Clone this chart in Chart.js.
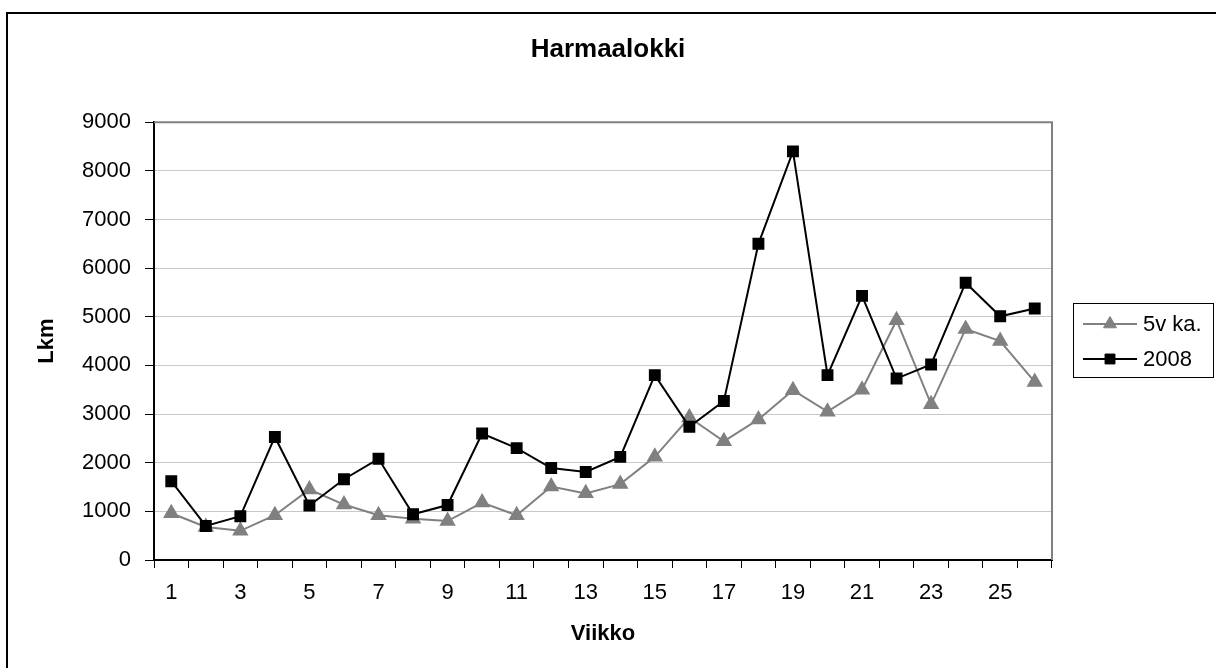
<!DOCTYPE html>
<html>
<head>
<meta charset="utf-8">
<script src="https://cdn.jsdelivr.net/npm/chart.js@4/dist/chart.umd.min.js"></script>
<style>
    html, body { margin: 0; padding: 0; background: #fff; }
    #wrap { width: 1216px; height: 668px; }
</style>
</head>
<body>
<div id="wrap"><canvas id="chart" width="1216" height="668"></canvas></div>
<script>
    // weeks 1..26
    var weeks = ['1', '2', '3', '4', '5', '6', '7', '8', '9', '10', '11', '12', '13',
                 '14', '15', '16', '17', '18', '19', '20', '21', '22', '23', '24', '25', '26'];

    // 5 year average
    var avg5 = [960, 680, 600, 920, 1450, 1140, 920, 850, 800, 1180, 920, 1510, 1370,
                1560, 2120, 2930, 2440, 2890, 3490, 3050, 3500, 4930, 3200, 4750, 4500, 3660];

    // year 2008
    var year2008 = [1620, 700, 900, 2530, 1120, 1660, 2080, 940, 1130, 2600, 2300, 1890, 1810,
                    2120, 3800, 2740, 3270, 6500, 8400, 3800, 5430, 3730, 4020, 5700, 5010, 5170];

    var seriesNames = ['5v ka.', '2008'];
    var yTicks = [0, 1000, 2000, 3000, 4000, 5000, 6000, 7000, 8000, 9000];

    Chart.defaults.font.family = '"Liberation Sans", Arial, sans-serif';
    Chart.defaults.color = '#000';

    // white page and the outer frame
    var framePlugin = {
        id: 'frame',
        beforeDraw: function (chart) {
            var ctx = chart.ctx;
            ctx.save();
            ctx.fillStyle = '#fff';
            ctx.fillRect(0, 0, chart.width, chart.height);
            ctx.strokeStyle = '#000';
            ctx.lineWidth = 2;
            ctx.beginPath();
            ctx.moveTo(7, chart.height);
            ctx.lineTo(7, 13);
            ctx.lineTo(chart.width, 13);
            ctx.stroke();
            ctx.restore();
        },
        afterDraw: function (chart) {
            // plot area border (top and right side)
            var a = chart.chartArea;
            var ctx = chart.ctx;
            ctx.save();
            ctx.strokeStyle = '#808080';
            ctx.lineWidth = 2;
            ctx.beginPath();
            ctx.moveTo(a.left, a.top);
            ctx.lineTo(a.right, a.top);
            ctx.lineTo(a.right, a.bottom);
            ctx.stroke();
            ctx.restore();
        }
    };

    // excel style legend: box with line + marker samples
    var boxLegend = {
        id: 'boxLegend',
        afterDraw: function (chart) {
            var ctx = chart.ctx;
            var left = chart.chartArea.right + 21;
            var top = 303;
            ctx.save();
            ctx.fillStyle = '#fff';
            ctx.fillRect(left, top, 140, 74);
            ctx.strokeStyle = '#000';
            ctx.lineWidth = 1;
            ctx.strokeRect(left + 0.5, top + 0.5, 140, 74);

            chart.data.datasets.forEach(function (ds, i) {
                var y = top + 21 + i * 35;
                ctx.strokeStyle = ds.borderColor;
                ctx.lineWidth = ds.borderWidth;
                ctx.beginPath();
                ctx.moveTo(left + 10, y);
                ctx.lineTo(left + 64, y);
                ctx.stroke();
                ctx.fillStyle = ds.pointBackgroundColor;
                ctx.strokeStyle = ds.pointBorderColor;
                ctx.lineWidth = 1;
                Chart.helpers.drawPoint(ctx, {
                    pointStyle: ds.pointStyle,
                    radius: ds.pointRadius,
                    borderWidth: 1,
                    rotation: 0
                }, left + 37, y);
                ctx.fillStyle = '#000';
                ctx.font = '22px "Liberation Sans", Arial, sans-serif';
                ctx.textBaseline = 'middle';
                ctx.textAlign = 'left';
                ctx.fillText(ds.label, left + 70, y + 1);
            });
            ctx.restore();
        }
    };

    var ctx = document.getElementById('chart').getContext('2d');
    var chart = new Chart(ctx, {
        type: 'line',
        data: {
            labels: weeks,
            datasets: [{
                label: seriesNames[0],
                data: avg5,
                borderColor: '#808080',
                backgroundColor: '#808080',
                pointBackgroundColor: '#808080',
                pointBorderColor: '#808080',
                pointStyle: 'triangle',
                pointRadius: 7.5,
                pointHoverRadius: 7.5,
                borderWidth: 2,
                tension: 0,
                fill: false,
                order: 2
            }, {
                label: seriesNames[1],
                data: year2008,
                borderColor: '#000',
                backgroundColor: '#000',
                pointBackgroundColor: '#000',
                pointBorderColor: '#000',
                pointStyle: 'rect',
                pointRadius: 7,
                pointHoverRadius: 7,
                borderWidth: 2,
                tension: 0,
                fill: false,
                order: 1
            }]
        },
        options: {
            responsive: false,
            animation: false,
            layout: { padding: 0 },
            plugins: {
                legend: { display: false },
                tooltip: { enabled: false },
                title: {
                    display: true,
                    text: 'Harmaalokki',
                    color: '#000',
                    font: { size: 26, weight: 'bold' },
                    padding: { top: 34, bottom: 57 }
                }
            },
            scales: {
                x: {
                    offset: true,
                    afterFit: function (scale) { scale.height = 108; },
                    grid: {
                        offset: true,
                        drawOnChartArea: false,
                        drawTicks: true,
                        tickLength: 8,
                        tickColor: '#000'
                    },
                    border: { color: '#000', width: 2 },
                    ticks: {
                        autoSkip: false,
                        maxRotation: 0,
                        padding: 12,
                        font: { size: 22 },
                        color: '#000',
                        callback: function (val, idx) {
                            return idx % 2 === 0 ? weeks[idx] : '';
                        }
                    },
                    title: {
                        display: true,
                        text: 'Viikko',
                        color: '#000',
                        font: { size: 22, weight: 'bold' },
                        padding: { top: 0, bottom: 21 }
                    }
                },
                y: {
                    min: yTicks[0],
                    max: yTicks[yTicks.length - 1],
                    afterFit: function (scale) { scale.width = 154; },
                    afterBuildTicks: function (scale) {
                        scale.ticks = yTicks.map(function (v) { return { value: v }; });
                    },
                    grid: {
                        color: '#c8c8c8',
                        lineWidth: 1,
                        tickLength: 9,
                        tickColor: '#000'
                    },
                    border: { color: '#000', width: 2 },
                    ticks: {
                        padding: 14,
                        font: { size: 22 },
                        color: '#000',
                        callback: function (val) { return String(val); }
                    },
                    title: {
                        display: true,
                        text: 'Lkm',
                        color: '#000',
                        font: { size: 22, weight: 'bold' },
                        padding: { top: 34, bottom: 0 }
                    }
                },
                // empty axis that only reserves room for the legend
                side: {
                    type: 'linear',
                    position: 'right',
                    afterFit: function (scale) { scale.width = 164; },
                    ticks: { display: false },
                    grid: { display: false },
                    border: { display: false }
                }
            }
        },
        plugins: [framePlugin, boxLegend]
    });
</script>
</body>
</html>
